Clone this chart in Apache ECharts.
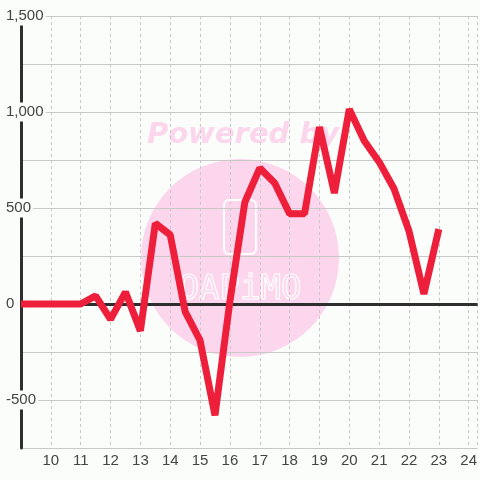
<!DOCTYPE html>
<html>
<head>
<meta charset="utf-8">
<script src="https://cdn.jsdelivr.net/npm/echarts@6/dist/echarts.min.js"></script>
<style>
  html, body { margin: 0; padding: 0; background: #fbfdfb; }
  #chart { width: 480px; height: 480px; }
</style>
</head>
<body>
<div id="chart"></div>
<script>
// hour of day (half-hour steps) and value
const hours = [9, 9.5, 10, 10.5, 11, 11.5, 12, 12.5, 13, 13.5, 14, 14.5, 15, 15.5, 16,
  16.5, 17, 17.5, 18, 18.5, 19, 19.5, 20, 20.5, 21, 21.5, 22, 22.5, 23];
const values = [0, 0, 0, 0, 0, 42, -80, 62, -140, 420, 360, -40, -190, -580, 15,
  530, 708, 630, 470, 470, 922, 578, 1015, 850, 740, 600, 380, 52, 390];
const yLabels = [-500, 0, 500, 1000, 1500];

const bg = '#fbfdfb';
const labelFont = 'Liberation Sans';

const chart = echarts.init(document.getElementById('chart'));

const option = {
  backgroundColor: bg,
  animation: false,
  grid: { left: 21, right: 0, top: 16, bottom: 32 },
  graphic: [
    { type: 'circle', z: -10, shape: { cx: 240, cy: 258, r: 99 }, style: { fill: '#fcd6ec' } },
    { type: 'text', z: -10, x: 243, y: 135,
      style: { text: 'Powered by', fill: '#fcd6ec', font: 'italic bold 29px "DejaVu Sans"',
        align: 'center', verticalAlign: 'middle' } },
    { type: 'rect', z: -9, shape: { x: 224, y: 200, width: 32, height: 54, r: 5 },
      style: { fill: 'none', stroke: '#ffffff', lineWidth: 2 } },
    { type: 'text', z: -9, x: 240, y: 290,
      style: { text: 'OAPiMO', fill: 'none', stroke: '#ffffff', lineWidth: 1.2,
        font: '34px "DejaVu Sans Mono"', align: 'center', verticalAlign: 'middle' } }
  ],
  xAxis: {
    type: 'value',
    min: 9,
    max: 24.3,
    interval: 1,
    axisLine: { show: false },
    axisTick: { show: false },
    axisLabel: {
      showMinLabel: false,
      showMaxLabel: false,
      margin: 5,
      color: '#444',
      fontSize: 15,
      fontFamily: labelFont
    },
    splitLine: { show: true, lineStyle: { color: '#c8c8c8', type: [3, 3], width: 1 } }
  },
  yAxis: {
    type: 'value',
    min: -750,
    max: 1500,
    interval: 250,
    axisLine: { show: true, lineStyle: { color: '#2e2e2e', width: 3 } },
    axisTick: { show: false },
    axisLabel: {
      align: 'left',
      margin: 17,
      formatter: function (v) {
        return yLabels.indexOf(v) >= 0 ? '{a|' + v.toLocaleString('en-US') + '}' : '';
      },
      rich: {
        a: {
          color: '#444',
          fontSize: 15,
          fontFamily: labelFont,
          backgroundColor: bg,
          padding: [2, 2, 2, 2]
        }
      }
    },
    splitLine: { show: true, lineStyle: { color: '#c8c8c8', width: 1 } }
  },
  series: [
    {
      // zero baseline only
      type: 'line',
      data: [],
      z: 1,
      markLine: {
        silent: true,
        z: 1,
        symbol: 'none',
        label: { show: false },
        lineStyle: { color: '#2e2e2e', width: 3, type: 'solid' },
        data: [{ yAxis: 0 }]
      }
    },
    {
      type: 'line',
      data: hours.map((h, i) => [h, values[i]]),
      symbol: 'none',
      lineStyle: { color: '#ee1f3a', width: 7, join: 'bevel' },
      z: 5
    }
  ]
};

chart.setOption(option);
</script>
</body>
</html>
